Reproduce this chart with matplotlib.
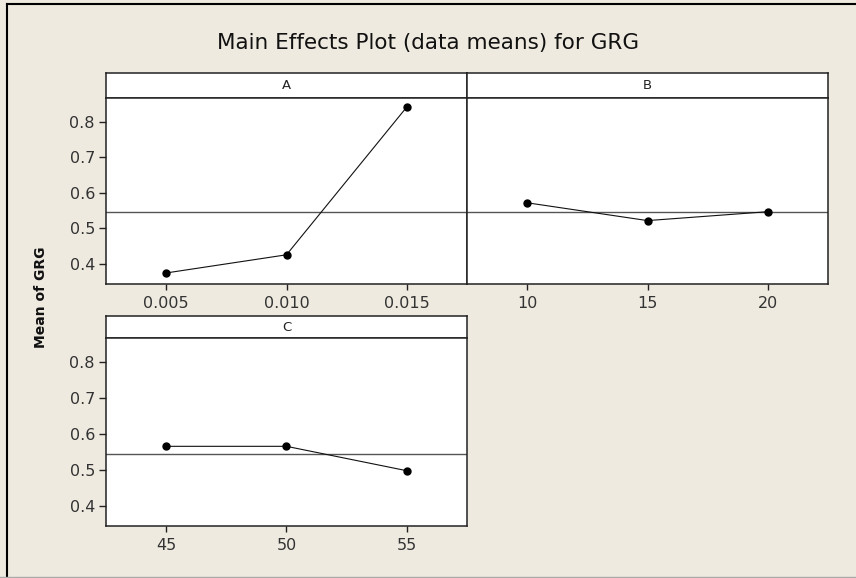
import matplotlib
matplotlib.use('Agg')
import matplotlib.pyplot as plt
from matplotlib.lines import Line2D
import numpy as np

# factor levels and mean GRG at each level
a_levels = [0.005, 0.010, 0.015]
a_means = [0.375, 0.426, 0.841]
b_levels = [10, 15, 20]
b_means = [0.572, 0.522, 0.547]
c_levels = [45, 50, 55]
c_means = [0.566, 0.566, 0.498]
a_labels = ['0.005', '0.010', '0.015']
b_labels = ['10', '15', '20']
c_labels = ['45', '50', '55']
y_ticks = [0.4, 0.5, 0.6, 0.7, 0.8]

grand_mean = np.mean(a_means + b_means + c_means)

bg = '#eeeae0'
W, H = 856, 578
plt.rcParams['font.family'] = 'DejaVu Sans'
fig = plt.figure(figsize=(W / 100, H / 100), dpi=100, facecolor=bg)


def fx(px):
    return px / W


def fy(px):
    return 1 - px / H


def panel(left, right, top, strip_bot, bot, name, levels, means, labels, show_y):
    sax = fig.add_axes([fx(left), fy(strip_bot), fx(right - left), fy(top) - fy(strip_bot)])
    sax.set_facecolor('white')
    sax.set_xticks([])
    sax.set_yticks([])
    sax.text(0.5, 0.5, name, ha='center', va='center', fontsize=9.5, color='#222222',
             transform=sax.transAxes)
    for s in sax.spines.values():
        s.set_color('#222222')
        s.set_linewidth(1.1)

    ax = fig.add_axes([fx(left), fy(bot), fx(right - left), fy(strip_bot) - fy(bot)])
    ax.set_facecolor('white')
    step = levels[1] - levels[0]
    ax.set_xlim(levels[0] - 0.5 * step, levels[-1] + 0.5 * step)
    ax.set_ylim(0.344, 0.867)
    ax.axhline(grand_mean, color='#555555', lw=1.0)
    ax.plot(levels, means, color='#111111', lw=0.8, marker='o', ms=5, mfc='black', mec='black')
    ax.set_xticks(levels)
    ax.set_xticklabels(labels)
    ax.tick_params(axis='x', length=4, width=1, color='#222222', labelsize=11.5,
                   labelcolor='#333333', pad=5)
    if show_y:
        ax.set_yticks(y_ticks)
        ax.set_yticklabels(['%.1f' % v for v in y_ticks])
        ax.tick_params(axis='y', length=5, width=1, color='#222222', labelsize=11.5,
                       labelcolor='#333333', pad=3)
    else:
        ax.set_yticks([])
    for s in ax.spines.values():
        s.set_color('#222222')
        s.set_linewidth(1.1)
    return ax


panel(106, 467, 73, 97.7, 284, 'A', a_levels, a_means, a_labels, True)
panel(467, 828, 73, 97.7, 284, 'B', b_levels, b_means, b_labels, False)
panel(106, 467, 316, 338.3, 526, 'C', c_levels, c_means, c_labels, True)

fig.text(0.5, fy(43), 'Main Effects Plot (data means) for GRG', ha='center', va='center',
         fontsize=15.5, color='#111111')
fig.text(fx(41), fy(297), 'Mean of GRG', rotation=90, ha='center', va='center',
         fontsize=10, fontweight='bold', color='#111111')

# window frame lines
fig.add_artist(Line2D([fx(7.5), fx(7.5)], [fy(4), fy(578)], color='black', lw=1.5))
fig.add_artist(Line2D([fx(7.5), 1], [fy(4), fy(4)], color='black', lw=1.5))
fig.add_artist(Line2D([0, 1], [fy(577), fy(577)], color='#aaaaaa', lw=1))

fig.savefig('out.png', dpi=100, facecolor=bg)
